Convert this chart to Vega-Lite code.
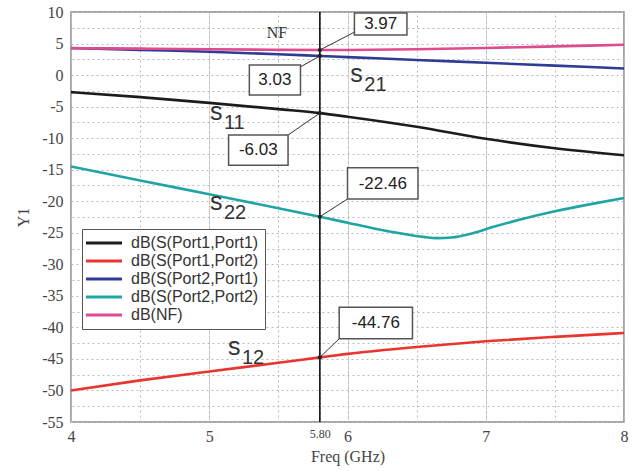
{
  "$schema": "https://vega.github.io/schema/vega-lite/v6.json",
  "width": 553,
  "height": 410,
  "autosize": "none",
  "padding": {"left": 71, "top": 12, "right": 10, "bottom": 49},
  "background": "white",
  "config": {
    "view": {"stroke": "#888", "strokeWidth": 1.5},
    "legend": {
      "orient": "none", "legendX": 11, "legendY": 217, "title": null,
      "symbolType": "M-3,0H3", "symbolSize": 144, "symbolStrokeWidth": 3,
      "labelFont": "Liberation Sans", "labelFontSize": 16, "labelColor": "#333",
      "strokeColor": "#555", "fillColor": "white", "padding": 6, "rowPadding": 2,
      "symbolOffset": 8, "labelOffset": 19
    }
  },
  "datasets": {
    "curves": [
      {"f": 4, "v": -2.7, "s": "dB(S(Port1,Port1)"},
      {"f": 4.5, "v": -3.5, "s": "dB(S(Port1,Port1)"},
      {"f": 5, "v": -4.4, "s": "dB(S(Port1,Port1)"},
      {"f": 5.5, "v": -5.4, "s": "dB(S(Port1,Port1)"},
      {"f": 5.8, "v": -6.03, "s": "dB(S(Port1,Port1)"},
      {"f": 6, "v": -6.6, "s": "dB(S(Port1,Port1)"},
      {"f": 6.5, "v": -8.2, "s": "dB(S(Port1,Port1)"},
      {"f": 7, "v": -10.1, "s": "dB(S(Port1,Port1)"},
      {"f": 7.5, "v": -11.6, "s": "dB(S(Port1,Port1)"},
      {"f": 8, "v": -12.7, "s": "dB(S(Port1,Port1)"},
      {"f": 4, "v": -50, "s": "dB(S(Port1,Port2)"},
      {"f": 4.5, "v": -48.4, "s": "dB(S(Port1,Port2)"},
      {"f": 5, "v": -47.0, "s": "dB(S(Port1,Port2)"},
      {"f": 5.5, "v": -45.6, "s": "dB(S(Port1,Port2)"},
      {"f": 5.8, "v": -44.76, "s": "dB(S(Port1,Port2)"},
      {"f": 6, "v": -44.2, "s": "dB(S(Port1,Port2)"},
      {"f": 6.5, "v": -43.1, "s": "dB(S(Port1,Port2)"},
      {"f": 7, "v": -42.2, "s": "dB(S(Port1,Port2)"},
      {"f": 7.5, "v": -41.5, "s": "dB(S(Port1,Port2)"},
      {"f": 8, "v": -40.9, "s": "dB(S(Port1,Port2)"},
      {"f": 4, "v": 4.3, "s": "dB(S(Port2,Port1)"},
      {"f": 4.5, "v": 4.0, "s": "dB(S(Port2,Port1)"},
      {"f": 5, "v": 3.7, "s": "dB(S(Port2,Port1)"},
      {"f": 5.5, "v": 3.3, "s": "dB(S(Port2,Port1)"},
      {"f": 5.8, "v": 3.03, "s": "dB(S(Port2,Port1)"},
      {"f": 6, "v": 2.85, "s": "dB(S(Port2,Port1)"},
      {"f": 6.5, "v": 2.4, "s": "dB(S(Port2,Port1)"},
      {"f": 7, "v": 1.95, "s": "dB(S(Port2,Port1)"},
      {"f": 7.5, "v": 1.5, "s": "dB(S(Port2,Port1)"},
      {"f": 8, "v": 1.05, "s": "dB(S(Port2,Port1)"},
      {"f": 4, "v": -14.5, "s": "dB(S(Port2,Port2)"},
      {"f": 4.5, "v": -16.7, "s": "dB(S(Port2,Port2)"},
      {"f": 5, "v": -18.9, "s": "dB(S(Port2,Port2)"},
      {"f": 5.5, "v": -21.1, "s": "dB(S(Port2,Port2)"},
      {"f": 5.8, "v": -22.46, "s": "dB(S(Port2,Port2)"},
      {"f": 6, "v": -23.4, "s": "dB(S(Port2,Port2)"},
      {"f": 6.2, "v": -24.35, "s": "dB(S(Port2,Port2)"},
      {"f": 6.4, "v": -25.15, "s": "dB(S(Port2,Port2)"},
      {"f": 6.55, "v": -25.65, "s": "dB(S(Port2,Port2)"},
      {"f": 6.65, "v": -25.85, "s": "dB(S(Port2,Port2)"},
      {"f": 6.75, "v": -25.75, "s": "dB(S(Port2,Port2)"},
      {"f": 6.9, "v": -25.1, "s": "dB(S(Port2,Port2)"},
      {"f": 7.05, "v": -24.1, "s": "dB(S(Port2,Port2)"},
      {"f": 7.25, "v": -22.9, "s": "dB(S(Port2,Port2)"},
      {"f": 7.5, "v": -21.6, "s": "dB(S(Port2,Port2)"},
      {"f": 7.75, "v": -20.5, "s": "dB(S(Port2,Port2)"},
      {"f": 8, "v": -19.5, "s": "dB(S(Port2,Port2)"},
      {"f": 4, "v": 4.25, "s": "dB(NF)"},
      {"f": 4.5, "v": 4.2, "s": "dB(NF)"},
      {"f": 5, "v": 4.1, "s": "dB(NF)"},
      {"f": 5.5, "v": 4.0, "s": "dB(NF)"},
      {"f": 5.8, "v": 3.97, "s": "dB(NF)"},
      {"f": 6, "v": 3.98, "s": "dB(NF)"},
      {"f": 6.5, "v": 4.1, "s": "dB(NF)"},
      {"f": 7, "v": 4.3, "s": "dB(NF)"},
      {"f": 7.5, "v": 4.55, "s": "dB(NF)"},
      {"f": 8, "v": 4.8, "s": "dB(NF)"}
    ],
    "callouts": [
      {"label": "3.97", "px": 5.8, "py": 3.97, "lx": 6.05, "ly": 6.8, "bx1": 6.05, "bx2": 6.43, "by1": 6.34, "by2": 9.83, "tx": 6.24, "ty": 8.1},
      {"label": "3.03", "px": 5.8, "py": 3.03, "lx": 5.66, "ly": 1.3, "bx1": 5.29, "bx2": 5.66, "by1": -3.17, "by2": 1.58, "tx": 5.475, "ty": -0.8},
      {"label": "-6.03", "px": 5.8, "py": -6.03, "lx": 5.57, "ly": -9.5, "bx1": 5.14, "bx2": 5.57, "by1": -14.3, "by2": -9.5, "tx": 5.355, "ty": -11.9},
      {"label": "-22.46", "px": 5.8, "py": -22.46, "lx": 6.0, "ly": -19.65, "bx1": 6.0, "bx2": 6.51, "by1": -19.65, "by2": -14.7, "tx": 6.255, "ty": -17.2},
      {"label": "-44.76", "px": 5.8, "py": -44.76, "lx": 5.94, "ly": -41.8, "bx1": 5.94, "bx2": 6.47, "by1": -41.8, "by2": -36.8, "tx": 6.205, "ty": -39.3}
    ],
    "curvelabels": [
      {"main": "s", "sub": "11", "x": 5.005, "y": -7.1},
      {"main": "s", "sub": "21", "x": 6.02, "y": -1.1},
      {"main": "s", "sub": "22", "x": 5.005, "y": -21.4},
      {"main": "s", "sub": "12", "x": 5.135, "y": -44.4}
    ]
  },
  "resolve": {"axis": {"x": "independent", "y": "independent"}},
  "layer": [
    {
      "data": {"values": [{"f": 4, "v": -55}]},
      "mark": {"type": "point", "opacity": 0},
      "encoding": {
        "x": {
          "field": "f", "type": "quantitative",
          "scale": {"domain": [4, 8], "nice": false, "zero": false},
          "axis": {"orient": "top", "title": null, "labels": false, "ticks": false, "domain": false,
            "values": [4, 4.5, 5, 5.5, 6, 6.5, 7, 7.5, 8],
            "grid": true, "gridColor": "#bbb", "gridDash": [2, 3], "gridWidth": 1}
        },
        "y": {
          "field": "v", "type": "quantitative",
          "scale": {"domain": [-55, 10], "nice": false, "zero": false},
          "axis": {"orient": "right", "title": null, "labels": false, "ticks": false, "domain": false,
            "values": [-52.5, -47.5, -42.5, -37.5, -32.5, -27.5, -22.5, -17.5, -12.5, -7.5, -2.5, 2.5, 7.5],
            "grid": true, "gridColor": "#bbb", "gridDash": [2, 3], "gridWidth": 1}
        }
      }
    },
    {
      "data": {"name": "curves"},
      "mark": {"type": "line", "interpolate": "monotone", "strokeWidth": 2.6},
      "encoding": {
        "x": {
          "field": "f", "type": "quantitative",
          "scale": {"domain": [4, 8], "nice": false, "zero": false},
          "axis": {
            "orient": "bottom",
            "title": "Freq (GHz)", "titleFont": "Liberation Serif", "titleFontSize": 16, "titleFontWeight": "normal", "titleColor": "#444", "titlePadding": 4,
            "values": [4, 5, 5.8, 6, 7, 8],
            "labelExpr": "datum.value == 5.8 ? '5.80' : toString(datum.value)",
            "labelFont": "Liberation Serif", "labelFontSize": {"condition": {"test": "datum.value == 5.8", "value": 12}, "value": 16},
            "labelColor": "#444", "labelOverlap": false, "labelFlush": false, "labelBound": false, "labelPadding": 6,
            "ticks": false, "domain": false,
            "grid": true, "gridColor": "#bbb", "gridDash": [2, 3], "gridWidth": 1
          }
        },
        "y": {
          "field": "v", "type": "quantitative",
          "scale": {"domain": [-55, 10], "nice": false, "zero": false},
          "axis": {
            "orient": "left",
            "title": "Y1", "titleFont": "Liberation Serif", "titleFontSize": 16, "titleFontWeight": "normal", "titleColor": "#444", "titlePadding": 10,
            "values": [-55, -50, -45, -40, -35, -30, -25, -20, -15, -10, -5, 0, 5, 10],
            "labelExpr": "toString(datum.value)",
            "labelFont": "Liberation Serif", "labelFontSize": 16, "labelColor": "#444",
            "labelOverlap": false, "labelFlush": false, "labelBound": false, "labelPadding": 8,
            "ticks": false, "domain": false,
            "grid": true, "gridColor": "#bbb", "gridDash": [2, 3], "gridWidth": 1
          }
        },
        "color": {
          "field": "s", "type": "nominal",
          "scale": {
            "domain": ["dB(S(Port1,Port1)", "dB(S(Port1,Port2)", "dB(S(Port2,Port1)", "dB(S(Port2,Port2)", "dB(NF)"],
            "range": ["#1c1c1c", "#e8352f", "#2e3c96", "#1fa5a3", "#de4b8e"]
          }
        }
      }
    },
    {
      "data": {"values": [{"m": 5.8}]},
      "mark": {"type": "rule", "color": "#111", "strokeWidth": 1.6},
      "encoding": {"x": {"field": "m", "type": "quantitative", "axis": null}}
    },
    {
      "data": {"name": "callouts"},
      "mark": {"type": "rule", "color": "#333", "strokeWidth": 1},
      "encoding": {
        "x": {"field": "lx", "type": "quantitative", "axis": null},
        "y": {"field": "ly", "type": "quantitative", "axis": null},
        "x2": {"field": "px"},
        "y2": {"field": "py"}
      }
    },
    {
      "data": {"name": "callouts"},
      "mark": {"type": "point", "filled": true, "color": "#222", "size": 18, "shape": "circle", "opacity": 1},
      "encoding": {
        "x": {"field": "px", "type": "quantitative", "axis": null},
        "y": {"field": "py", "type": "quantitative", "axis": null}
      }
    },
    {
      "data": {"name": "callouts"},
      "mark": {"type": "rect", "fill": "white", "stroke": "#555", "strokeWidth": 1.5},
      "encoding": {
        "x": {"field": "bx1", "type": "quantitative", "axis": null},
        "x2": {"field": "bx2"},
        "y": {"field": "by1", "type": "quantitative", "axis": null},
        "y2": {"field": "by2"}
      }
    },
    {
      "data": {"name": "callouts"},
      "mark": {"type": "text", "font": "Liberation Sans", "fontSize": 17, "color": "#222", "align": "center", "baseline": "middle"},
      "encoding": {
        "x": {"field": "tx", "type": "quantitative", "axis": null},
        "y": {"field": "ty", "type": "quantitative", "axis": null},
        "text": {"field": "label"}
      }
    },
    {
      "data": {"values": [{"t": "NF", "x": 5.49, "y": 6.66}]},
      "mark": {"type": "text", "font": "Liberation Serif", "fontSize": 16, "color": "#333", "align": "center", "baseline": "middle"},
      "encoding": {
        "x": {"field": "x", "type": "quantitative", "axis": null},
        "y": {"field": "y", "type": "quantitative", "axis": null},
        "text": {"field": "t"}
      }
    },
    {
      "data": {"name": "curvelabels"},
      "mark": {"type": "text", "font": "Liberation Sans", "fontSize": 25, "color": "#333", "align": "left", "baseline": "alphabetic"},
      "encoding": {
        "x": {"field": "x", "type": "quantitative", "axis": null},
        "y": {"field": "y", "type": "quantitative", "axis": null},
        "text": {"field": "main"}
      }
    },
    {
      "data": {"name": "curvelabels"},
      "mark": {"type": "text", "font": "Liberation Sans", "fontSize": 20, "color": "#333", "align": "left", "baseline": "alphabetic", "dx": 14, "dy": 9},
      "encoding": {
        "x": {"field": "x", "type": "quantitative", "axis": null},
        "y": {"field": "y", "type": "quantitative", "axis": null},
        "text": {"field": "sub"}
      }
    }
  ]
}
